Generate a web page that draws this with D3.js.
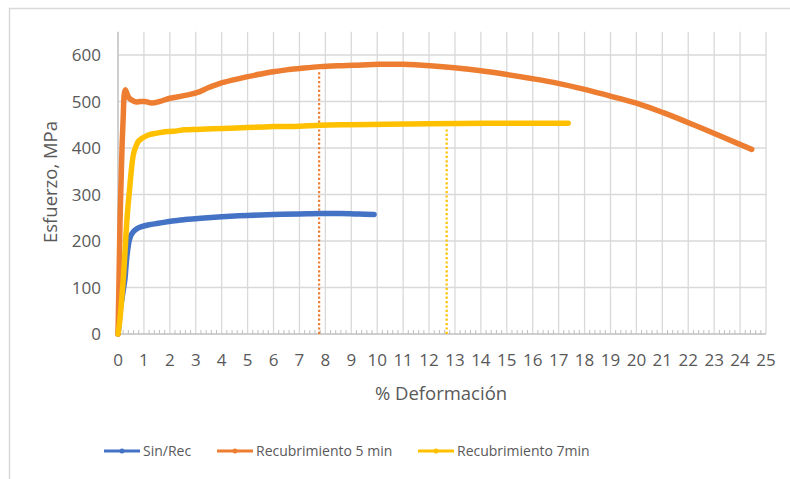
<!DOCTYPE html>
<html>
<head>
<meta charset="utf-8">
<script src="https://cdn.jsdelivr.net/npm/d3@7"></script>
<style>
  html, body { margin: 0; padding: 0; background: #fff; }
  svg { display: block; font-family: "Open Sans", "DejaVu Sans", sans-serif; }
</style>
</head>
<body>
<svg id="chart" width="790" height="479"></svg>
<script>
// ---- Data ----
const seriesNames = ["Sin/Rec", "Recubrimiento 5 min", "Recubrimiento 7min"];

const sinRecX = [0, 0.04, 0.08, 0.15, 0.22, 0.27, 0.33, 0.4, 0.47, 0.59, 0.75, 0.91, 1.2, 1.56, 2.1, 2.58, 3.2, 4.0, 5.0, 6.0, 7.0, 7.8, 8.6, 9.3, 9.88];
const sinRecY = [0, 20, 48, 75, 100, 120, 160, 191, 208, 220, 227, 231, 235, 238, 243, 246, 249, 252, 255, 257, 258, 259, 259, 258, 257];

const rec5X = [0, 0.04, 0.08, 0.12, 0.16, 0.2, 0.24, 0.28, 0.34, 0.42, 0.53, 0.7, 0.85, 1.04, 1.3, 1.6, 2.0, 2.5, 3.04, 3.5, 3.94, 4.5, 4.96, 5.5, 5.99, 6.5, 7.02, 7.79, 8.5, 9.08, 10.1, 11.0, 12.04, 13.07, 14.0, 15.0, 16.0, 16.98, 18.0, 19.1, 20.14, 21.04, 22.2, 23.35, 23.9, 24.2, 24.45];
const rec5Y = [0, 120, 249, 330, 410, 464, 515, 525, 518, 508, 503, 499, 500, 500, 497, 500, 507, 512, 519, 530, 539, 547, 553, 559, 564, 568, 571, 575, 577, 578, 580, 580, 577, 572, 566, 558, 549, 539, 526, 510, 494, 476, 450, 423, 410, 403, 397];

const rec7X = [0, 0.04, 0.08, 0.15, 0.22, 0.27, 0.35, 0.46, 0.53, 0.59, 0.68, 0.78, 0.9, 1.17, 1.5, 1.81, 2.13, 2.58, 3.0, 4.06, 5.0, 6.0, 7.0, 7.8, 9.0, 10.37, 12.0, 14.2, 16.0, 17.37];
const rec7Y = [0, 15, 34, 80, 130, 177, 250, 320, 360, 385, 402, 414, 420, 428, 432, 435, 436, 439, 440, 442, 444, 446, 447, 449, 450, 451, 452, 453, 453, 453];

// dotted reference lines: x position and top value
const refLineX = [7.76, 12.68];
const refLineTop = [566, 440];

const xTicks = d3.range(0, 26, 1);
const yTicks = [0, 100, 200, 300, 400, 500, 600];
const xMax = 25, yMax = 650;

const colors = ["#4472C4", "#ED7D31", "#FFC000"];

// ---- Layout ----
const svg = d3.select("#chart");
const pL = 118, pR = 766, pT = 31.75, pB = 334;
const x = d3.scaleLinear().domain([0, xMax]).range([pL, pR]);
const y = d3.scaleLinear().domain([0, yMax]).range([pB, pT]);

// outer border (only top/left visible)
svg.append("rect").attr("x", 9.5).attr("y", 8.5).attr("width", 800).attr("height", 500)
  .attr("fill", "none").attr("stroke", "#d9d9d9").attr("stroke-width", 1.5);

// gridlines
svg.append("g").selectAll("line").data(yTicks.filter(d => d > 0)).join("line")
  .attr("x1", pL).attr("x2", pR).attr("y1", d => y(d)).attr("y2", d => y(d))
  .attr("stroke", "#d9d9d9").attr("stroke-width", 1.3);
svg.append("g").selectAll("line").data(xTicks.filter(d => d > 0)).join("line")
  .attr("x1", d => x(d)).attr("x2", d => x(d)).attr("y1", pT).attr("y2", pB)
  .attr("stroke", "#d9d9d9").attr("stroke-width", 1.3);

// minor ticks on x axis (inside)
const minor = d3.range(0, xMax + 0.001, 0.2).filter(d => Math.abs(d - Math.round(d)) > 0.01);
svg.append("g").selectAll("line").data(minor).join("line")
  .attr("x1", d => x(d)).attr("x2", d => x(d)).attr("y1", pB - 4).attr("y2", pB)
  .attr("stroke", "#bfbfbf").attr("stroke-width", 1);

// axis lines
svg.append("line").attr("x1", pL).attr("x2", pL).attr("y1", pT).attr("y2", pB)
  .attr("stroke", "#bfbfbf").attr("stroke-width", 1.5);
svg.append("line").attr("x1", pL).attr("x2", pR).attr("y1", pB).attr("y2", pB)
  .attr("stroke", "#bfbfbf").attr("stroke-width", 1.5);

// tick labels
svg.append("g").selectAll("text").data(yTicks).join("text")
  .attr("x", 101).attr("y", d => y(d)).attr("dy", "0.36em")
  .attr("text-anchor", "end").attr("fill", "#595959").attr("font-size", 17)
  .text(d => d);
svg.append("g").selectAll("text").data(xTicks).join("text")
  .attr("x", d => x(d)).attr("y", 366)
  .attr("text-anchor", "middle").attr("fill", "#595959").attr("font-size", 17)
  .text(d => d);

// axis titles
svg.append("text").attr("x", 441).attr("y", 400).attr("text-anchor", "middle")
  .attr("fill", "#595959").attr("font-size", 18.5).text("% Deformación");
svg.append("text").attr("transform", "translate(57,182) rotate(-90)").attr("text-anchor", "middle")
  .attr("fill", "#595959").attr("font-size", 18.5).text("Esfuerzo, MPa");

// dotted reference lines
svg.append("g").selectAll("line").data(refLineX).join("line")
  .attr("x1", d => x(d)).attr("x2", d => x(d))
  .attr("y1", pB).attr("y2", (d, i) => y(refLineTop[i]))
  .attr("stroke", (d, i) => colors[i + 1]).attr("stroke-width", 2.2)
  .attr("stroke-dasharray", "2.2,2.2");

// series
const series = [
  { xs: sinRecX, ys: sinRecY },
  { xs: rec5X, ys: rec5Y },
  { xs: rec7X, ys: rec7Y }
];
const line = d3.line().x(d => x(d[0])).y(d => y(d[1])).curve(d3.curveCatmullRom.alpha(0.5));
[0, 1, 2].forEach(i => {
  const s = series[i];
  const pts = s.xs.map((v, k) => [v, s.ys[k]]);
  svg.append("path").attr("d", line(pts)).attr("fill", "none")
    .attr("stroke", colors[i]).attr("stroke-width", 5.5)
    .attr("stroke-linejoin", "round").attr("stroke-linecap", "round");
});

// legend
const legX = [104, 217, 418];
const leg = svg.append("g").selectAll("g").data(seriesNames).join("g")
  .attr("transform", (d, i) => `translate(${legX[i]},451)`);
leg.append("line").attr("x1", 0).attr("x2", 36).attr("y1", 0).attr("y2", 0)
  .attr("stroke", (d, i) => colors[i]).attr("stroke-width", 3);
leg.append("circle").attr("cx", 18).attr("cy", 0).attr("r", 2.5)
  .attr("fill", (d, i) => colors[i]);
leg.append("text").attr("x", 39).attr("y", 0).attr("dy", "0.35em")
  .attr("fill", "#595959").attr("font-size", 14).text(d => d);
</script>
</body>
</html>
